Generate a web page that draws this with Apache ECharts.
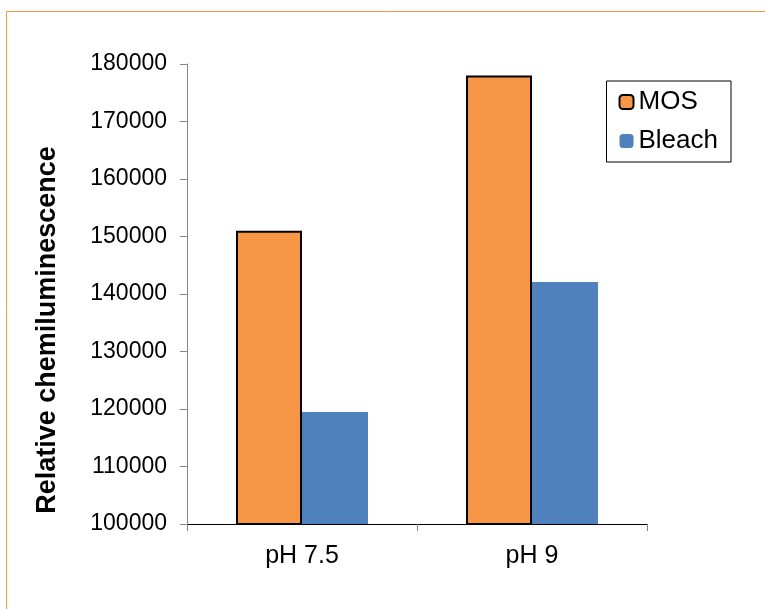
<!DOCTYPE html>
<html>
<head>
<meta charset="utf-8">
<script src="https://cdn.jsdelivr.net/npm/echarts@6/dist/echarts.min.js"></script>
<style>
  html, body { margin: 0; padding: 0; background: #fff; }
  #chart { width: 765px; height: 609px; }
</style>
</head>
<body>
<div id="chart"></div>
<script>
// categories and values
var categories = ["pH 7.5", "pH 9"];
var mosValues = [151000, 178000];
var bleachValues = [119500, 142100];
var yMin = 100000;
var yMax = 180000;
var yStep = 10000;

var chart = echarts.init(document.getElementById("chart"));
var font = "Liberation Sans, Arial, sans-serif";

chart.setOption({
  animation: false,
  color: ["#F79646", "#4F81BD"],
  graphic: [
    // thin orange frame along the top and left edge
    {
      type: "polyline",
      shape: { points: [[6.5, 609], [6.5, 11.5], [765, 11.5]] },
      style: { stroke: "#F79646", lineWidth: 1, fill: null },
      silent: true
    },
    // y axis title, sits a bit lower than the plot middle
    {
      type: "text",
      x: 48,
      y: 330,
      rotation: Math.PI / 2,
      style: {
        text: "Relative chemiluminescence",
        font: "bold 27px " + font,
        fill: "#000",
        align: "center",
        verticalAlign: "middle"
      },
      silent: true
    }
  ],
  grid: {
    left: 187,
    right: 118,
    top: 64,
    bottom: 85
  },
  legend: {
    orient: "vertical",
    right: 34,
    top: 81,
    padding: [8, 13, 8, 12],
    itemGap: 13,
    itemWidth: 14,
    itemHeight: 14,
    borderColor: "#000",
    borderWidth: 1,
    textStyle: { fontFamily: font, fontSize: 26, color: "#000" },
    data: ["MOS", "Bleach"]
  },
  xAxis: {
    type: "category",
    data: categories,
    axisLine: { lineStyle: { color: "#000", width: 1 } },
    axisTick: { show: true, length: 7, lineStyle: { color: "#868686" } },
    axisLabel: { fontFamily: font, fontSize: 25, color: "#000", margin: 20 }
  },
  yAxis: {
    type: "value",
    min: yMin,
    max: yMax,
    interval: yStep,
    axisLine: { show: true, lineStyle: { color: "#868686" } },
    axisTick: { show: true, length: 7, lineStyle: { color: "#868686" } },
    axisLabel: {
      fontFamily: font,
      fontSize: 23,
      color: "#000",
      margin: 20,
      formatter: function (v) { return String(v); }
    },
    splitLine: { show: false }
  },
  series: [
    {
      name: "MOS",
      type: "bar",
      data: mosValues,
      barWidth: 66,
      barGap: "0%",
      itemStyle: { color: "#F79646", borderColor: "#000", borderWidth: 2 }
    },
    {
      name: "Bleach",
      type: "bar",
      data: bleachValues,
      barWidth: 66,
      barGap: "0%",
      itemStyle: { color: "#4F81BD" }
    }
  ]
});
</script>
</body>
</html>
